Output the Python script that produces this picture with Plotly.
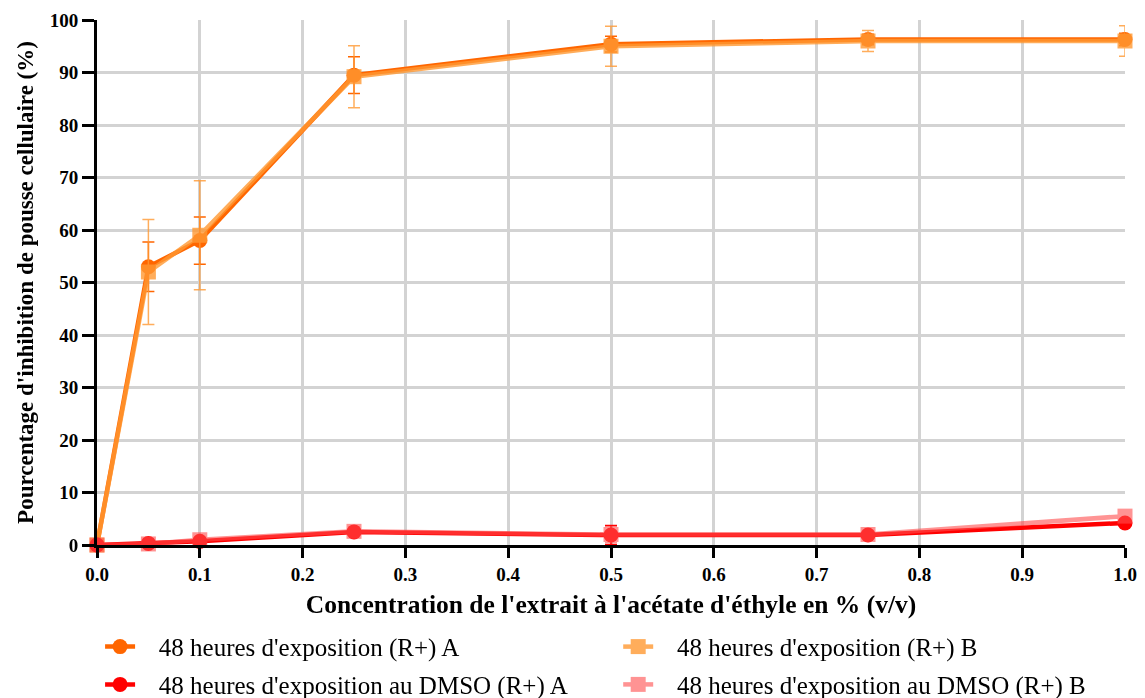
import plotly.graph_objects as go

conc = [0, 0.05, 0.1, 0.25, 0.5, 0.75, 1.0]

r_a = [0, 53.0, 58.0, 89.5, 95.4, 96.3, 96.3]
r_a_err = [0, 4.7, 4.5, 3.5, 1.5, 1.0, 1.2]

r_b = [0, 52.0, 59.0, 89.2, 95.0, 96.0, 96.0]
r_b_err = [0, 10.0, 10.4, 5.9, 3.8, 2.0, 2.9]

dmso_a = [0, 0.3, 0.7, 2.5, 1.9, 1.9, 4.2]
dmso_a_err = [0, 0.5, 0.6, 0.6, 1.8, 0.5, 0.4]

dmso_b = [0, 0.2, 1.0, 2.6, 2.0, 2.0, 5.5]
dmso_b_err = [0, 0.6, 0.8, 0.8, 1.5, 0.5, 0.5]

names = ["48 heures d'exposition (R+) A", "48 heures d'exposition (R+) B",
         "48 heures d'exposition au DMSO (R+) A", "48 heures d'exposition au DMSO (R+) B"]

fig = go.Figure()

def add(y, err, name, color, symbol, opacity, leg):
    fig.add_trace(go.Scatter(
        x=conc, y=y, name="\u00a0\u00a0\u00a0" + name, mode="lines+markers",
        line=dict(color=color, width=4.5),
        marker=dict(color=color, symbol=symbol, size=15),
        opacity=opacity, cliponaxis=False, legend=leg,
        error_y=dict(type="data", array=err, color=color, thickness=1.5, width=6),
    ))

# one legend per entry so the 2x2 grid can be placed exactly
add(r_a, r_a_err, names[0], "#ff6600", "circle", 1.0, "legend")
add(r_b, r_b_err, names[1], "#ff9933", "square", 0.8, "legend2")
add(dmso_a, dmso_a_err, names[2], "#ff0000", "circle", 1.0, "legend3")
add(dmso_b, dmso_b_err, names[3], "#ff4d4d", "square", 0.6, "legend4")

font = "Liberation Serif"
leg_style = dict(orientation="h", xanchor="left", yanchor="middle",
                 font=dict(family=font, size=25))
col1, col2 = 0.003, 0.507
row1, row2 = -0.194, -0.266

# page body has an 8px margin, so size/margins are shifted to compensate
fig.update_layout(
    width=1137, height=720,
    plot_bgcolor="white", paper_bgcolor="white",
    margin=dict(l=89, r=20, t=12, b=183),
    font=dict(family=font, size=20, color="black"),
    legend=dict(x=col1, y=row1, **leg_style),
    legend2=dict(x=col2, y=row1, **leg_style),
    legend3=dict(x=col1, y=row2, **leg_style),
    legend4=dict(x=col2, y=row2, **leg_style),
    showlegend=True,
)
fig.update_xaxes(
    range=[0, 1.0], dtick=0.1, tickformat=".1f", automargin=False,
    showline=True, linecolor="black", linewidth=3,
    ticks="outside", tickwidth=3, ticklen=10, tickcolor="black",
    showgrid=True, gridcolor="#d3d3d3", gridwidth=3, zeroline=False,
    tickfont=dict(size=19, family=font, weight="bold"),
    title=dict(text="Concentration de l'extrait à l'acétate d'éthyle en % (v/v)",
               font=dict(size=25.5, family=font, weight="bold"), standoff=12),
)
fig.update_yaxes(
    range=[0, 100], dtick=10, automargin=False,
    showline=True, linecolor="black", linewidth=3,
    ticks="outside", tickwidth=3, ticklen=12, tickcolor="black",
    showgrid=True, gridcolor="#d3d3d3", gridwidth=3, zeroline=False,
    tickfont=dict(size=19, family=font, weight="bold"),
    title=dict(text="Pourcentage d'inhibition de pousse cellulaire (%)",
               font=dict(size=23, family=font, weight="bold"), standoff=10),
)

fig.write_html("out.html")
